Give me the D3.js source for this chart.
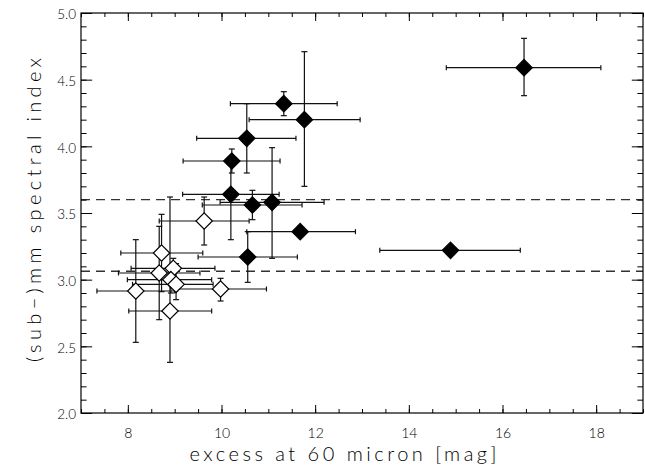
<!DOCTYPE html>
<html>
<head>
<meta charset="utf-8">
<script src="https://cdn.jsdelivr.net/npm/d3@7"></script>
<style>
  body { margin: 0; background: #fff; }
  text { font-family: Lato, 'DejaVu Sans', sans-serif; font-weight: 300; fill: #000; }
</style>
</head>
<body>
<svg id="chart" width="645" height="466"></svg>
<script>
// filled diamonds
const filledX   = [16.46, 11.33, 11.77, 10.54, 10.22, 10.20, 10.66, 11.08, 11.68, 10.56, 14.89];
const filledY   = [4.59, 4.32, 4.20, 4.06, 3.89, 3.64, 3.56, 3.58, 3.36, 3.17, 3.22];
const filledXlo = [14.80, 10.19, 10.59, 9.47, 9.18, 9.17, 9.59, 9.97, 10.54, 9.50, 13.38];
const filledXhi = [18.10, 12.47, 12.96, 11.59, 11.25, 11.23, 11.72, 12.19, 12.86, 11.62, 16.38];
const filledYlo = [4.38, 4.23, 3.70, 3.80, 3.80, 3.30, 3.45, 3.16, 3.34, 2.98, 3.20];
const filledYhi = [4.81, 4.41, 4.71, 4.32, 3.98, 3.89, 3.67, 3.99, 3.38, 3.36, 3.24];

// open diamonds
const openX   = [9.63, 8.72, 8.67, 8.97, 8.92, 9.03, 8.17, 9.98, 8.90];
const openY   = [3.44, 3.20, 3.05, 3.085, 3.00, 2.965, 2.915, 2.93, 2.765];
const openXlo = [8.67, 7.85, 7.80, 8.07, 7.99, 8.10, 7.34, 9.00, 8.02];
const openXhi = [10.59, 9.60, 9.54, 9.86, 9.79, 9.82, 9.00, 10.96, 9.79];
const openYlo = [3.26, 2.91, 2.70, 3.00, 2.90, 2.85, 2.53, 2.84, 2.38];
const openYhi = [3.62, 3.49, 3.40, 3.16, 3.10, 3.12, 3.30, 3.01, 3.62];

// horizontal dashed levels
const levels = [3.60, 3.063];

const xTicks = [8, 10, 12, 14, 16, 18];
const yTicks = [2.0, 2.5, 3.0, 3.5, 4.0, 4.5, 5.0];

const svg = d3.select('#chart');
const plotL = 81, plotR = 643, plotT = 13, plotB = 413;

const x = d3.scaleLinear().domain([7, 19]).range([plotL, plotR]);
const y = d3.scaleLinear().domain([2, 5]).range([plotB, plotT]);

// build rows for the two series
function rows(xs, ys, xlo, xhi, ylo, yhi) {
  return xs.map((v, i) => ({ x: v, y: ys[i], xlo: xlo[i], xhi: xhi[i], ylo: ylo[i], yhi: yhi[i] }));
}
const filled = rows(filledX, filledY, filledXlo, filledXhi, filledYlo, filledYhi);
const open = rows(openX, openY, openXlo, openXhi, openYlo, openYhi);

// dashed lines
svg.append('g').selectAll('line').data(levels).enter().append('line')
  .attr('x1', plotL).attr('x2', plotR)
  .attr('y1', d => y(d)).attr('y2', d => y(d))
  .attr('stroke', '#333').attr('stroke-width', 1.3)
  .attr('stroke-dasharray', '9,6');

// error bars
function drawSeries(data) {
  const g = svg.append('g');
  const eb = g.selectAll('g.eb').data(data).enter().append('g').attr('class', 'eb')
    .attr('stroke', '#111').attr('stroke-width', 1.2);
  eb.append('line')
    .attr('x1', d => x(d.xlo)).attr('x2', d => x(d.xhi))
    .attr('y1', d => y(d.y)).attr('y2', d => y(d.y));
  eb.append('line')
    .attr('x1', d => x(d.xlo)).attr('x2', d => x(d.xlo))
    .attr('y1', d => y(d.y) - 2.5).attr('y2', d => y(d.y) + 2.5);
  eb.append('line')
    .attr('x1', d => x(d.xhi)).attr('x2', d => x(d.xhi))
    .attr('y1', d => y(d.y) - 2.5).attr('y2', d => y(d.y) + 2.5);
  eb.append('line')
    .attr('x1', d => x(d.x)).attr('x2', d => x(d.x))
    .attr('y1', d => y(d.ylo)).attr('y2', d => y(d.yhi));
  eb.append('line')
    .attr('x1', d => x(d.x) - 3).attr('x2', d => x(d.x) + 3)
    .attr('y1', d => y(d.ylo)).attr('y2', d => y(d.ylo));
  eb.append('line')
    .attr('x1', d => x(d.x) - 3).attr('x2', d => x(d.x) + 3)
    .attr('y1', d => y(d.yhi)).attr('y2', d => y(d.yhi));
  return g;
}
// diamond symbols
function drawDiamonds(g, data, fill) {
  const r = 8.2;
  g.selectAll('path.dm').data(data).enter().append('path').attr('class', 'dm')
    .attr('d', d => {
      const cx = x(d.x), cy = y(d.y);
      return `M${cx},${cy - r}L${cx + r},${cy}L${cx},${cy + r}L${cx - r},${cy}Z`;
    })
    .attr('fill', fill).attr('stroke', '#000').attr('stroke-width', 1.2);
}
const gOpen = drawSeries(open);
const gFilled = drawSeries(filled);
drawDiamonds(gOpen, open, '#fff');
drawDiamonds(gFilled, filled, '#000');

// axes: inward ticks on all four sides
svg.append('g').attr('transform', `translate(0,${plotB})`)
  .call(d3.axisBottom(x).tickValues(x.ticks(24)).tickSize(-4).tickFormat(''))
  .call(g => g.select('.domain').remove());
svg.append('g').attr('transform', `translate(0,${plotB})`)
  .call(d3.axisBottom(x).tickValues(xTicks).tickSize(-8).tickPadding(20).tickFormat(d3.format('d')))
  .call(g => g.select('.domain').remove())
  .call(g => g.selectAll('text').attr('dy', '0.35em').style('font-size', '14px').style('font-family', null));
svg.append('g').attr('transform', `translate(0,${plotT})`)
  .call(d3.axisTop(x).tickValues(x.ticks(24)).tickSize(-4).tickFormat(''))
  .call(g => g.select('.domain').remove());
svg.append('g').attr('transform', `translate(0,${plotT})`)
  .call(d3.axisTop(x).tickValues(xTicks).tickSize(-8).tickFormat(''))
  .call(g => g.select('.domain').remove());

svg.append('g').attr('transform', `translate(${plotL},0)`)
  .call(d3.axisLeft(y).tickValues(y.ticks(30)).tickSize(-5.6).tickFormat(''))
  .call(g => g.select('.domain').remove());
svg.append('g').attr('transform', `translate(${plotL},0)`)
  .call(d3.axisLeft(y).tickValues(yTicks).tickSize(-11.2).tickPadding(5).tickFormat(d3.format('.1f')))
  .call(g => g.select('.domain').remove())
  .call(g => g.selectAll('text').attr('dy', '0.42em').style('font-size', '13.5px').style('font-family', null));
svg.append('g').attr('transform', `translate(${plotR},0)`)
  .call(d3.axisRight(y).tickValues(y.ticks(30)).tickSize(-5.6).tickFormat(''))
  .call(g => g.select('.domain').remove());
svg.append('g').attr('transform', `translate(${plotR},0)`)
  .call(d3.axisRight(y).tickValues(yTicks).tickSize(-11.2).tickFormat(''))
  .call(g => g.select('.domain').remove());

svg.selectAll('.tick line').attr('stroke', '#000').attr('stroke-width', 1);

// frame
svg.append('rect')
  .attr('x', plotL).attr('y', plotT)
  .attr('width', plotR - plotL).attr('height', plotB - plotT)
  .attr('fill', 'none').attr('stroke', '#000').attr('stroke-width', 1.2);

// titles
svg.append('text')
  .attr('x', 343).attr('y', 461)
  .attr('text-anchor', 'middle')
  .attr('textLength', 307).attr('lengthAdjust', 'spacing')
  .style('font-size', '20px')
  .text('excess at 60 micron [mag]');
svg.append('text')
  .attr('transform', 'translate(40.5,210) rotate(-90)')
  .attr('text-anchor', 'middle')
  .attr('textLength', 304).attr('lengthAdjust', 'spacing')
  .style('font-size', '20px')
  .text('(sub\u2212)mm spectral index');
</script>
</body>
</html>
